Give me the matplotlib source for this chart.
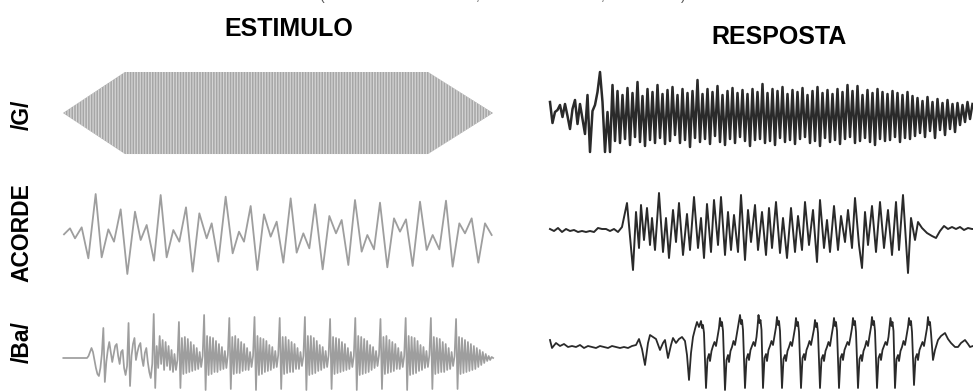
import numpy as np
import matplotlib.pyplot as plt

W, H = 973, 391
LABEL_FONT = ['Liberation Sans', 'DejaVu Sans']
STIM_COLOR = '#9e9e9e'
RESP_COLOR = '#2a2a2a'

# ---------------- data ----------------
# /G/ stimulus: tone with linear ramps (envelope breakpoints, ms / rel. amplitude)
G_STIM_T = [6.9, 25.5, 116.4, 135.9]
G_STIM_ENV = [0.0, 1.0, 1.0, 0.0]

# ACORDE stimulus: waveform extrema (ms, rel. amplitude)
ACORDE_STIM_T = [7.2, 9.0, 10.5, 12.5, 14.5, 16.7, 18.5, 20.5, 22.2, 24.2,
                 26.2, 28.5, 30.2, 32.0, 34.2, 36.2, 38.0, 40.0, 41.8, 43.8,
                 45.8, 47.8, 50.0, 51.5, 53.5, 55.7, 57.8, 59.7, 61.2, 63.2,
                 65.2, 67.2, 69.2, 71.0, 73.0, 75.2, 77.0, 79.0, 80.8, 82.5,
                 84.8, 86.8, 88.8, 90.5, 92.5, 94.5, 96.5, 98.2, 100.2, 102.0,
                 104.2, 106.2, 108.0, 109.8, 111.8, 114.0, 116.0, 117.8, 119.8, 121.8,
                 123.8, 125.8, 127.5, 129.5, 131.5, 133.5, 135.5]
ACORDE_STIM_A = [-0.03, 0.15, -0.15, 0.18, -0.75, 1.18, -0.72, 0.12, -0.25, 0.72,
                 -1.22, 0.65, -0.20, 0.25, -0.82, 1.15, -0.72, 0.10, -0.25, 0.78,
                 -1.15, 0.60, -0.15, 0.30, -0.85, 1.10, -0.60, 0.05, -0.25, 0.82,
                 -1.10, 0.57, -0.10, 0.35, -0.88, 1.05, -0.58, 0.00, -0.45, 0.87,
                 -1.08, 0.52, 0.00, 0.40, -0.95, 1.00, -0.55, -0.05, -0.48, 0.92,
                 -1.02, 0.45, 0.05, 0.42, -0.98, 0.95, -0.50, -0.05, -0.48, 0.98,
                 -1.00, 0.30, 0.00, 0.45, -0.88, 0.30, -0.05]

# /Ba/ stimulus: evenly sampled (start, step in ms), amplitude in a.u.
BA_STIM_T0 = 7.0
BA_STIM_DT = 0.4446
BA_STIM_A = [0, 0, 0, 0, 0, 0, 0, 0, 0, 0, 0, 0, 0, 0, 0, 0, 0,
             2, 6, 10, 6, -2, -10, -16, -18, -10, 4,
             30, -24, -4, 8, 16, 6, -4, 4, 12, 14, 2, -6, 6, 8, -10, -17, -8,
             35, -28, 2, 14, 20, -2, 6, 12, 15, 0, -8, 5, 10, -4, -14, -20, -6,
             44, -30, 12, -10, 22, -6, 18, -12, 16, -8, 12, -12, 8, -14, 4, -12, -2,
             36, -30, 20, -16, 21, -15, 19, -14, 16, -13, 13, -12, 10, -11, 6, -9, 2,
             43, -32, 22, -17, 21, -16, 20, -14, 17, -14, 14, -12, 11, -11, 7, -10, 3,
             40, -31, 21, -16, 22, -15, 19, -15, 16, -13, 14, -12, 10, -12, 6, -9, 2,
             41, -32, 22, -17, 20, -16, 19, -14, 17, -13, 13, -12, 11, -10, 7, -9, 3,
             40, -31, 21, -16, 21, -15, 18, -14, 16, -14, 14, -11, 10, -11, 6, -8, 2,
             41, -32, 22, -17, 22, -16, 20, -15, 17, -13, 13, -12, 11, -10, 7, -9, 3,
             39, -31, 21, -16, 20, -15, 19, -14, 16, -13, 14, -12, 10, -11, 6, -9, 2,
             40, -32, 22, -17, 21, -16, 19, -15, 17, -14, 13, -12, 11, -10, 7, -8, 3,
             39, -31, 21, -16, 22, -15, 18, -14, 16, -13, 14, -11, 10, -11, 6, -9, 2,
             40, -32, 22, -17, 21, -16, 20, -15, 17, -13, 13, -12, 11, -10, 7, -9, 3,
             40, -31, 21, -16, 20, -15, 19, -14, 16, -14, 14, -12, 10, -11, 6, -8, 2,
             39, -31, 21, -16, 20, -15, 18, -14, 16, -13, 14, -12, 12, -11, 10, -9,
             8, -7, 6, -5, 4, -3, 2, -2, 1, 0]

# /G/ response: evenly sampled, amplitude in a.u.
G_RESP_T0 = 55.0
G_RESP_DT = 0.25
G_RESP_A = [11, -10, 1, 3, 8, -4, 9, -3, -16, 4, 13, -11, 9, -6, -21, 18,
            -39, 2, 8, 21, 41, 11, -39, 1, -39, 28,
            -28, 22, -30, 18, -26, 25, -32, 20, -24, 31, -29, 17, -33, 24, -27, 21,
            -30, 28, -25, 19, -31, 23, -28, 26, -22, 18, -30, 24, -27, 20, -34, 22,
            -25, 33, -29, 19, -26, 24, -31, 21, -23, 27, -29, 18, -32, 22, -26, 25,
            -30, 20, -24, 23, -28, 19, -33, 24, -27, 21,
            -26, 29, -30, 20, -28, 24, -32, 22, -25, 26, -29, 19, -27, 23, -31, 21,
            -26, 25, -24, 18, -30, 22, -28, 26, -33, 20, -25, 23, -29, 19, -27, 24,
            -31, 21, -26, 28, -24, 22, -30, 27, -28, 18, -25, 23, -29, 20, -32, 24,
            -26, 21, -28, 19, -27, 22, -24, 20, -29, 18, -25, 21, -26, 17, -23,
            15, -20, 12, -24, 16, -18, 11, -25, 14, -17, 10, -22, 13, -16, 9, -19,
            10, -12, 8, -9, 11, -6, 9]

# ACORDE response: extrema (ms, a.u.)
ACORDE_RESP_T = [55.0, 55.4, 55.8, 56.2, 56.6, 57.0, 57.4, 57.8, 58.2, 58.6,
                 59.0, 59.4, 59.8, 60.2, 60.6, 61.0, 61.4, 61.8, 62.2,
                 62.7, 63.3, 63.6, 63.9, 64.1, 64.4, 64.7, 65.0, 65.2, 65.5,
                 65.9, 66.3, 66.6, 66.9, 67.3, 67.6, 67.9, 68.3, 68.7, 69.0,
                 69.4, 69.8, 70.1, 70.4, 70.7, 71.1, 71.4, 71.8, 72.1, 72.5,
                 72.8, 73.1, 73.4, 73.8, 74.1, 74.5, 74.8, 75.1, 75.5, 75.8,
                 76.2, 76.6, 76.9, 77.2, 77.6, 78.0, 78.3, 78.7, 79.1, 79.5,
                 79.8, 80.2, 80.5, 80.9, 81.3, 81.7, 82.0, 82.4, 82.7, 83.0,
                 83.4, 83.8, 84.1, 84.5, 84.8, 85.2, 85.5, 85.9, 86.2, 86.5,
                 86.8, 87.2, 87.6, 88.0, 88.4, 88.8, 89.2, 89.6, 89.9, 90.3,
                 90.8, 91.1, 91.5, 91.8, 92.2, 92.7, 93.2, 93.6, 94.0, 94.4,
                 94.8, 95.2, 95.6, 96.0, 96.4, 96.8, 97.2, 97.6]
ACORDE_RESP_A = [1, -1, 2, -2, 1, -1, 0, -2, -1, -2,
                 -1, -2, 2, 1, 1, -1, 1, -2, 3,
                 27, -40, 18, -18, 25, -10, 22, -15, 12, -20,
                 37, -22, 12, -28, 20, -12, 27, -25, 16, -20,
                 33, -18, 12, -28, 26, -22, 30, -15, 33, -25,
                 18, -20, 15, -22, 35, -30, 20, -12, 25, -20,
                 18, -25, 22, -18, 28, -23, 12, -28, 22, -22,
                 14, -20, 28, -15, 20, -32, 30, -18, 10, -22,
                 24, -20, 14, -12, 20, -18, 32, -15, -38, 18,
                 -15, 24, -22, 28, -18, 20, -25, 28, -20, 35,
                 -43, 12, -10, 8, 2, -3, -6, -8, -1, 4,
                 1, 3, 1, 3, 0, 2, 1, 1]

# /Ba/ response: extrema (ms, a.u.)
BA_RESP_T = [55.0, 55.2, 55.6, 56.0, 56.4, 56.8, 57.2, 57.6, 58.0, 58.4,
             58.8, 59.2, 59.6, 60.0, 60.4, 60.8, 61.2, 61.6, 62.0, 62.4,
             62.8, 63.2, 63.6, 63.9,
             64.2, 64.5, 64.8, 65.0, 65.3, 65.6, 66.0, 66.3, 66.5, 66.8,
             67.1, 67.3, 67.6, 67.9, 68.2, 68.5, 68.7, 68.9, 69.1, 69.3,
             69.5, 69.7, 69.9,
             70.1, 70.2, 70.3, 70.4, 70.6, 70.75, 70.9, 71.0, 71.15, 71.3, 71.45, 71.6, 71.75, 71.9,
             72.0, 72.1, 72.2, 72.3, 72.5, 72.65, 72.8, 72.9, 73.05, 73.2, 73.35, 73.5, 73.65, 73.8,
             74.0, 74.1, 74.2, 74.3, 74.5, 74.65, 74.8, 74.9, 75.05, 75.2, 75.35, 75.5, 75.65, 75.75,
             75.85, 75.95, 76.05, 76.15, 76.3, 76.45, 76.6, 76.7, 76.85, 77.0, 77.15, 77.3, 77.45, 77.6,
             77.7, 77.8, 77.9, 78.0, 78.2, 78.35, 78.5, 78.6, 78.75, 78.9, 79.05, 79.2, 79.35, 79.5,
             79.6, 79.7, 79.8, 79.9, 80.1, 80.25, 80.4, 80.5, 80.65, 80.8, 80.95, 81.1, 81.25, 81.4,
             81.5, 81.6, 81.7, 81.8, 82.0, 82.15, 82.3, 82.4, 82.55, 82.7, 82.85, 83.0, 83.15, 83.3,
             83.4, 83.5, 83.6, 83.7, 83.9, 84.05, 84.2, 84.3, 84.45, 84.6, 84.75, 84.9, 85.05, 85.2,
             85.3, 85.4, 85.5, 85.6, 85.8, 85.95, 86.1, 86.2, 86.35, 86.5, 86.65, 86.8, 86.95, 87.1,
             87.2, 87.3, 87.4, 87.5, 87.7, 87.85, 88.0, 88.1, 88.25, 88.4, 88.55, 88.7, 88.85, 88.95,
             89.05, 89.15, 89.25, 89.35, 89.5, 89.65, 89.8, 89.9, 90.05, 90.2, 90.35, 90.5, 90.65, 90.8,
             90.9, 91.0, 91.1, 91.2, 91.4, 91.55, 91.7, 91.8, 91.95, 92.1, 92.25, 92.4, 92.55, 92.7,
             92.8, 92.9, 93.0, 93.1, 93.3, 93.5, 93.8, 94.1, 94.5, 94.8, 95.1, 95.5, 95.8, 96.1,
             96.5, 96.8, 97.0, 97.3]
BA_RESP_A = [5, -3, 2, -1, 1, -2, -1, -2, 0, -3,
             -1, -2, -3, -1, -2, -3, -1, -2, -3, -2,
             -3, -1, 0, 6,
             -4, -20, 2, 10, 8, 6, -5, 2, 5, -13,
             0, 7, 2, 6, 8, 4, -10, -35, -8, 8,
             16, 23, 18,
             24, 17, 20, 12, -43, -14, -9, -16, -6, -1, 3, -1, 8, 17,
             27, 19, 23, 14, -45, -15, -10, -17, -6, -2, 4, 0, 9, 18,
             30, 21, 25, 15, -43, -14, -9, -15, -5, -1, 3, -1, 8, 18,
             30, 22, 25, 15, -43, -13, -9, -16, -5, -1, 4, 0, 9, 18,
             28, 20, 24, 14, -43, -14, -10, -16, -6, -2, 3, -1, 8, 17,
             27, 19, 23, 13, -43, -13, -9, -15, -5, -1, 4, 0, 8, 16,
             25, 18, 22, 12, -43, -14, -10, -16, -6, -2, 3, -1, 9, 18,
             27, 19, 23, 14, -43, -13, -9, -15, -5, -1, 3, 0, 8, 17,
             27, 20, 24, 13, -43, -14, -10, -16, -6, -2, 4, -1, 9, 18,
             28, 20, 24, 14, -43, -13, -9, -15, -5, -1, 3, 0, 8, 17,
             27, 19, 23, 14, -43, -14, -10, -16, -6, -2, 4, 0, 9, 18,
             27, 20, 24, 13, -40, -13, -9, -15, -5, -1, 3, -1, 8, 17,
             28, 20, 23, 12, -15, -5, 5, 9, 12, 6, 2, -2, -2, 2,
             5, 1, -2, -1]

ROW_LABELS = ['/G/', 'ACORDE', '/Ba/']
COL_TITLES = ['ESTIMULO', 'RESPOSTA']


def px_axes(fig, left, top, right, bottom):
    ax = fig.add_axes([left / W, 1 - bottom / H, (right - left) / W, (bottom - top) / H])
    ax.set_axis_off()
    return ax


def evenly_sampled(t0, dt, values):
    return t0 + dt * np.arange(len(values)), np.asarray(values, dtype=float)


plt.rcParams['hatch.linewidth'] = 0.9
fig = plt.figure(figsize=(W / 100, H / 100), dpi=100)

# --- stimulus column ---
ax = px_axes(fig, 40, 62, 500, 165)
env = np.asarray(G_STIM_ENV)
ax.fill_between(G_STIM_T, -env, env, facecolor='#a6a6a6', edgecolor='#d4d4d4',
                linewidth=0, hatch='||||||')
ax.set_xlim(0, 138)
ax.set_ylim(-1.268, 1.244)

ax = px_axes(fig, 40, 180, 500, 286)
ax.plot(ACORDE_STIM_T, ACORDE_STIM_A, color=STIM_COLOR, lw=1.3,
        solid_joinstyle='round')
ax.set_xlim(0, 138)
ax.set_ylim(-1.58, 1.6)

ax = px_axes(fig, 40, 300, 500, 391)
t, a = evenly_sampled(BA_STIM_T0, BA_STIM_DT, BA_STIM_A)
ax.plot(t, a, color=STIM_COLOR, lw=1.25)
ax.set_xlim(0, 138)
ax.set_ylim(-33, 58)

# --- response column ---
ax = px_axes(fig, 540, 62, 973, 165)
t, a = evenly_sampled(G_RESP_T0, G_RESP_DT, G_RESP_A)
ax.plot(t, a, color=RESP_COLOR, lw=1.8)
ax.set_xlim(54.0, 97.3)
ax.set_ylim(-52, 51)

ax = px_axes(fig, 540, 180, 973, 286)
ax.plot(ACORDE_RESP_T, ACORDE_RESP_A, color=RESP_COLOR, lw=1.4)
ax.set_xlim(54.0, 97.3)
ax.set_ylim(-56, 50)

ax = px_axes(fig, 540, 300, 973, 391)
ax.plot(BA_RESP_T, BA_RESP_A, color=RESP_COLOR, lw=1.3)
ax.set_xlim(54.0, 97.3)
ax.set_ylim(-46, 45)

# --- texts ---
fig.text(289 / W, 1 - 28.5 / H, COL_TITLES[0], ha='center', va='center',
         fontsize=18, fontweight='bold', family=LABEL_FONT)
fig.text(779 / W, 1 - 36.5 / H, COL_TITLES[1], ha='center', va='center',
         fontsize=18, fontweight='bold', family=LABEL_FONT)
for label, yc in zip(ROW_LABELS, [115, 233, 342]):
    fig.text(22 / W, 1 - yc / H, label, rotation=90, ha='center', va='center',
             fontsize=16.5, fontweight='bold', family=LABEL_FONT)

# cropped caption line at the very top edge (only its lowest strokes show)
for ch, xc in zip(['(', ',', ',', ')'], [322, 478, 603, 683]):
    fig.text(xc / W, 1.0 + 0.3 / H, ch, ha='center', va='baseline', fontsize=10,
             color='#555555', family=LABEL_FONT)

fig.savefig('out.png', dpi=100)
